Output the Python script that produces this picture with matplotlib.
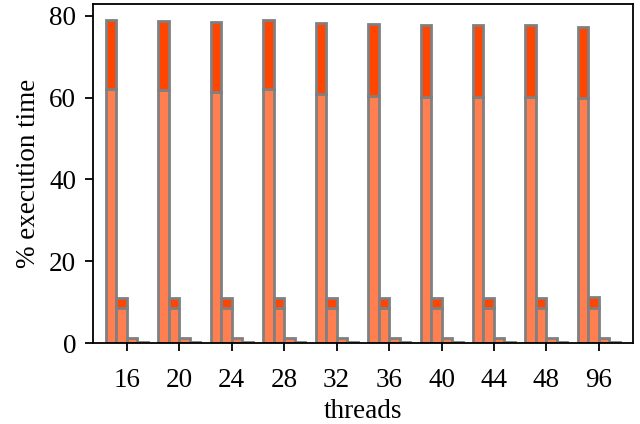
import numpy as np
import matplotlib
matplotlib.use("Agg")
import matplotlib.pyplot as plt

# Data
threads = ["16", "20", "24", "28", "32", "36", "40", "44", "48", "96"]
bar1_base = [62.0, 61.8, 61.4, 62.0, 61.0, 60.4, 60.2, 60.2, 60.2, 59.8]
bar1_total = [79.0, 78.8, 78.4, 79.0, 78.3, 77.9, 77.7, 77.7, 77.7, 77.4]
bar2_base = [8.5, 8.5, 8.5, 8.5, 8.5, 8.5, 8.5, 8.5, 8.5, 8.6]
bar2_total = [11.1, 11.1, 11.1, 11.1, 11.1, 11.1, 11.1, 11.1, 11.1, 11.3]
bar3 = [1.3, 1.3, 1.3, 1.3, 1.3, 1.3, 1.3, 1.3, 1.3, 1.3]
bar4 = [0.15, 0.15, 0.15, 0.15, 0.15, 0.15, 0.15, 0.15, 0.15, 0.15]

plt.rcParams.update({
    "font.family": ["Liberation Serif", "DejaVu Serif"],
    "font.size": 19.5,
    "axes.linewidth": 1.3,
})

LIGHT = "#ff7f50"
DARK = "#ff4500"
EDGE = "#808080"
W = 0.2

x = np.arange(len(threads))
b1_top = np.array(bar1_total) - np.array(bar1_base)
b2_top = np.array(bar2_total) - np.array(bar2_base)

fig = plt.figure(figsize=(6.4, 4.24), dpi=100)
ax = fig.add_axes([0.145, 0.191, 0.844, 0.8])

kw = dict(width=W, edgecolor=EDGE, linewidth=2)
ax.bar(x - 1.5 * W, bar1_base, color=LIGHT, **kw)
ax.bar(x - 1.5 * W, b1_top, bottom=bar1_base, color=DARK, **kw)
ax.bar(x - 0.5 * W, bar2_base, color=LIGHT, **kw)
ax.bar(x - 0.5 * W, b2_top, bottom=bar2_base, color=DARK, **kw)
ax.bar(x + 0.5 * W, bar3, color=LIGHT, **kw)
ax.bar(x + 1.5 * W, bar4, color=LIGHT, **kw)

ax.set_xlim(-0.65, 9.65)
ax.set_xticks(x)
ax.set_xticklabels(threads)
ax.set_yticks([0, 20, 40, 60, 80])
ax.tick_params(length=6, width=1.3)
ax.tick_params(axis="x", pad=12)
ax.tick_params(axis="y", pad=6)
ax.set_xlabel("threads", labelpad=4)
ax.set_ylabel("% execution time", labelpad=6)

fig.savefig("out.png", dpi=100)
